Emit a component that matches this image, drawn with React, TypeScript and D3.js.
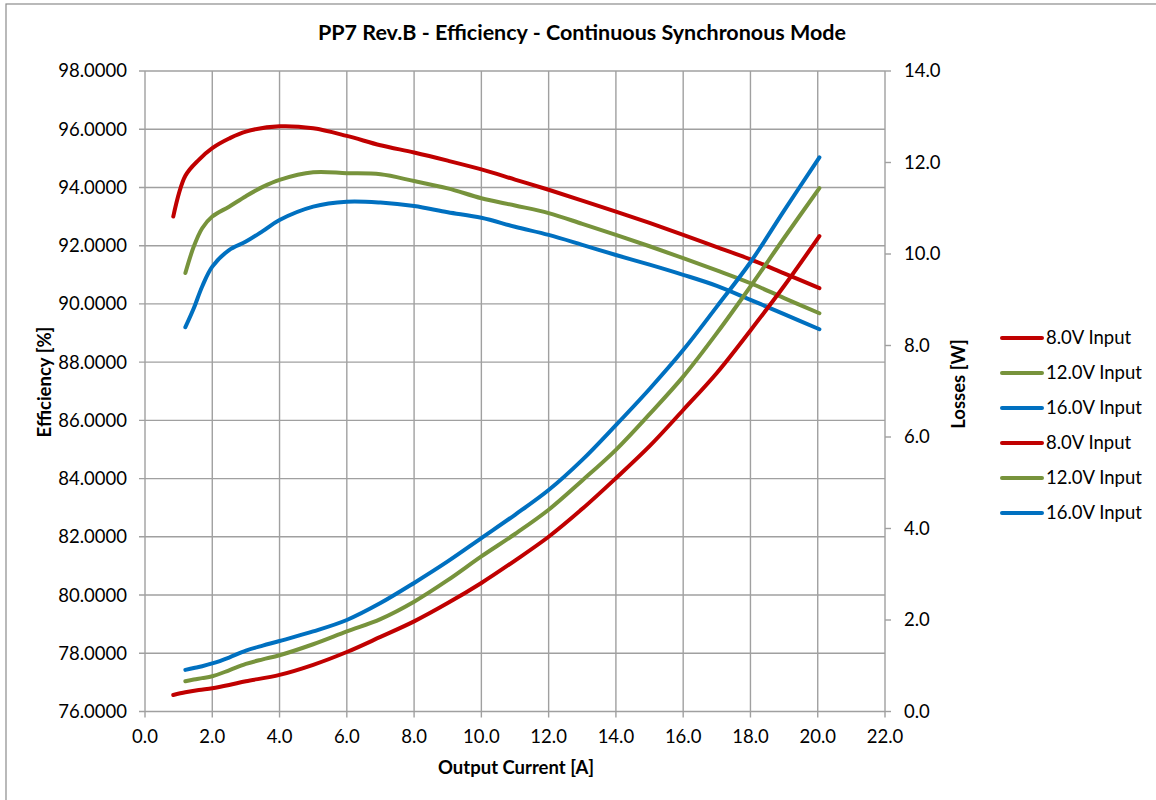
import React from "react";
import * as d3 from "d3";

const title = "PP7 Rev.B - Efficiency - Continuous Synchronous Mode";
const xTicks = [0, 2, 4, 6, 8, 10, 12, 14, 16, 18, 20, 22];
const effTicks = [76, 78, 80, 82, 84, 86, 88, 90, 92, 94, 96, 98];
const lossTicks = [0, 2, 4, 6, 8, 10, 12, 14];

// 8.0V input
const current8 = [0.84, 1.2, 1.6, 2, 2.5, 3, 4, 5, 6, 7, 8, 9, 10, 11, 12, 13, 14, 15, 16, 17, 18, 19, 20.05];
const eff8 = [93.0, 94.4, 94.95, 95.35, 95.68, 95.92, 96.1, 96.03, 95.77, 95.45, 95.2, 94.92, 94.62, 94.27, 93.92, 93.55, 93.17, 92.78, 92.37, 91.95, 91.53, 91.05, 90.54];
const loss8 = [0.36, 0.42, 0.47, 0.51, 0.58, 0.66, 0.8, 1.02, 1.3, 1.63, 1.97, 2.37, 2.81, 3.3, 3.82, 4.43, 5.1, 5.8, 6.59, 7.4, 8.33, 9.3, 10.39];

// 12.0V and 16.0V input
const current12 = [1.2, 1.45, 1.7, 2, 2.5, 3, 3.5, 4, 5, 6, 7, 8, 9, 10, 11, 12, 13, 14, 15, 16, 17, 18, 19, 20.05];
const eff12 = [91.06, 91.97, 92.6, 93.0, 93.34, 93.7, 94.02, 94.26, 94.52, 94.49, 94.45, 94.22, 93.97, 93.63, 93.38, 93.12, 92.75, 92.37, 91.98, 91.57, 91.15, 90.71, 90.2, 89.68];
const loss12 = [0.66, 0.7, 0.73, 0.77, 0.9, 1.04, 1.14, 1.23, 1.47, 1.75, 2.02, 2.4, 2.87, 3.39, 3.88, 4.41, 5.05, 5.72, 6.5, 7.32, 8.27, 9.29, 10.35, 11.44];

const current16 = current12;
const eff16 = [89.2, 89.85, 90.6, 91.28, 91.85, 92.14, 92.5, 92.88, 93.34, 93.51, 93.48, 93.36, 93.15, 92.96, 92.65, 92.37, 92.03, 91.68, 91.35, 91.0, 90.62, 90.14, 89.65, 89.13];
const loss16 = [0.91, 0.95, 0.99, 1.05, 1.18, 1.33, 1.44, 1.54, 1.75, 2.0, 2.37, 2.81, 3.28, 3.79, 4.3, 4.84, 5.5, 6.26, 7.05, 7.9, 8.85, 9.82, 10.95, 12.11];

const legendLabels = ["8.0V Input", "12.0V Input", "16.0V Input", "8.0V Input", "12.0V Input", "16.0V Input"];
const seriesColors = ["#C00000", "#77933C", "#0070C0"];

const W = 1156;
const H = 800;
const FONT = "Lato, 'Open Sans', sans-serif";

export default function App() {
  const left = 145, right = 885, top = 71, bottom = 711.5;
  const x = d3.scaleLinear().domain([0, 22]).range([left, right]);
  const yE = d3.scaleLinear().domain([76, 98]).range([bottom, top]);
  const yL = d3.scaleLinear().domain([0, 14]).range([bottom, top]);

  const mk = (xs: number[], ys: number[], sc: d3.ScaleLinear<number, number>) =>
    d3
      .line<number>()
      .x((_, i) => x(xs[i]))
      .y((v) => sc(v))
      .curve(d3.curveCatmullRom.alpha(0.5))(ys) || "";

  const effSeries = [
    { xs: current8, ys: eff8 },
    { xs: current12, ys: eff12 },
    { xs: current16, ys: eff16 },
  ];
  const lossSeries = [
    { xs: current8, ys: loss8 },
    { xs: current12, ys: loss12 },
    { xs: current16, ys: loss16 },
  ];

  const grid = "#A0A0A0";
  const tickFs = 18.5;

  return (
    <svg
      width={W}
      height={H}
      style={{ position: "absolute", left: 0, top: 0, background: "#fff" }}
      fontFamily={FONT}
    >
      <rect x={0} y={0} width={W} height={H} fill="#fff" />
      <rect x={6} y={4} width={W + 50} height={H + 50} fill="#fff" stroke="#8C8C8C" strokeWidth={1.2} />

      <text x={582} y={40} textAnchor="middle" fontSize={21.5} fontWeight="bold" fill="#000">
        {title}
      </text>

      {/* horizontal gridlines */}
      {effTicks.map((t) => (
        <line key={"h" + t} x1={left - 6} x2={right} y1={yE(t)} y2={yE(t)} stroke={grid} strokeWidth={1.4} />
      ))}
      {/* vertical gridlines */}
      {xTicks.map((t) => (
        <line key={"v" + t} x1={x(t)} x2={x(t)} y1={top} y2={bottom + 6} stroke={grid} strokeWidth={1.4} />
      ))}
      {/* right axis ticks */}
      {lossTicks.map((t) => (
        <line key={"r" + t} x1={right} x2={right + 6} y1={yL(t)} y2={yL(t)} stroke={grid} strokeWidth={1.4} />
      ))}

      {/* left tick labels */}
      {effTicks.map((t) => (
        <text key={"el" + t} x={127} y={yE(t)} dy="0.35em" textAnchor="end" fontSize={tickFs} fill="#000">
          {t.toFixed(4)}
        </text>
      ))}
      {/* right tick labels */}
      {lossTicks.map((t) => (
        <text key={"ll" + t} x={904} y={yL(t)} dy="0.35em" textAnchor="start" fontSize={tickFs} fill="#000">
          {t.toFixed(1)}
        </text>
      ))}
      {/* x tick labels */}
      {xTicks.map((t) => (
        <text key={"xl" + t} x={x(t)} y={737} dy="0.35em" textAnchor="middle" fontSize={tickFs} fill="#000">
          {t.toFixed(1)}
        </text>
      ))}

      {/* axis titles */}
      <text x={516} y={774} textAnchor="middle" fontSize={18.5} fontWeight="bold" fill="#000">
        Output Current [A]
      </text>
      <text
        transform={`translate(51,382) rotate(-90)`}
        textAnchor="middle"
        fontSize={18.5}
        fontWeight="bold"
        fill="#000"
      >
        Efficiency [%]
      </text>
      <text
        transform={`translate(965,384) rotate(-90)`}
        textAnchor="middle"
        fontSize={18.5}
        fontWeight="bold"
        fill="#000"
      >
        Losses [W]
      </text>

      {/* series */}
      {effSeries.map((s, i) => (
        <path key={"e" + i} d={mk(s.xs, s.ys, yE)} fill="none" stroke={seriesColors[i]} strokeWidth={4} strokeLinecap="round" strokeLinejoin="round" />
      ))}
      {lossSeries.map((s, i) => (
        <path key={"l" + i} d={mk(s.xs, s.ys, yL)} fill="none" stroke={seriesColors[i]} strokeWidth={4} strokeLinecap="round" strokeLinejoin="round" />
      ))}

      {/* legend */}
      {legendLabels.map((lab, i) => {
        const ly = 338 + i * 35;
        return (
          <g key={"lg" + i}>
            <line x1={1002} x2={1042} y1={ly} y2={ly} stroke={seriesColors[i % 3]} strokeWidth={4} strokeLinecap="round" />
            <text x={1046} y={ly} dy="0.35em" fontSize={18.5} fill="#000">
              {lab}
            </text>
          </g>
        );
      })}
    </svg>
  );
}
